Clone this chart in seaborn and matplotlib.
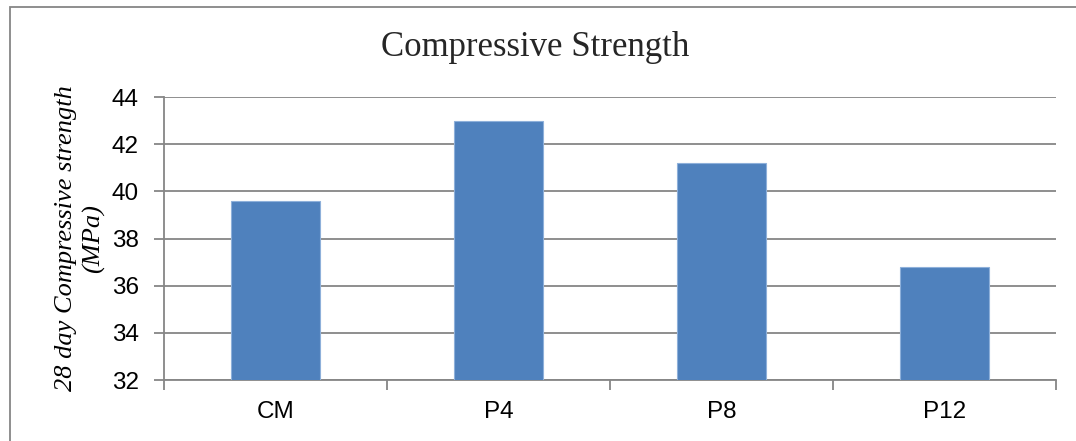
import matplotlib
matplotlib.use('Agg')
import matplotlib.pyplot as plt
import matplotlib.patches as mpatches
from matplotlib.ticker import FixedLocator
import seaborn as sns
import pandas as pd

# ── Data ──────────────────────────────────────────────────
mixes = ['CM', 'P4', 'P8', 'P12']
strength = [39.6, 43.0, 41.2, 36.8]
y_ticks = [32, 34, 36, 38, 40, 42, 44]

df = pd.DataFrame({'mix': mixes, 'strength': strength})

sns.set_style('white')
sans = ['Liberation Sans Narrow', 'Liberation Sans', 'DejaVu Sans']
serif = ['Liberation Serif', 'DejaVu Serif']

fig = plt.figure(figsize=(10.76, 4.41), dpi=100)
ax = fig.add_axes([0.1524, 0.1383, 0.829, 0.6417])

sns.barplot(data=df, x='mix', y='strength', color='#4F81BD', width=0.4,
            saturation=1, edgecolor='#8EB0DA', linewidth=0.8, ax=ax, zorder=3)

ax.set_ylim(32, 44)
ax.set_xlim(-0.5, len(mixes) - 0.5)
ax.set_yticks(y_ticks)
ax.yaxis.grid(True, color='#868686', linewidth=1.3, zorder=0)
ax.set_axisbelow(True)

# ticks at category boundaries like Excel
ax.xaxis.set_minor_locator(FixedLocator([i - 0.5 for i in range(len(mixes) + 1)]))
ax.tick_params(axis='x', which='major', length=0, pad=15)
ax.tick_params(axis='x', which='minor', length=7, width=1.3, color='#868686', bottom=True)
ax.tick_params(axis='y', length=7, width=1.3, color='#868686', left=True, pad=11)

for lbl in ax.get_xticklabels() + ax.get_yticklabels():
    lbl.set_fontfamily(sans)
    lbl.set_fontsize(17.5)
    lbl.set_color('black')

for side in ['top', 'right']:
    ax.spines[side].set_visible(False)
for side in ['left', 'bottom']:
    ax.spines[side].set_color('#868686')
    ax.spines[side].set_linewidth(1.3)

ax.set_xlabel('')
ax.set_ylabel('28 day Compressive strength\n(MPa)', family=serif, style='italic',
              fontsize=19, labelpad=5, linespacing=1.25, color='black')

fig.text(0.497, 0.893, 'Compressive Strength', family=serif, fontsize=25,
         ha='center', va='center')

# outer chart border
border = mpatches.Rectangle((10 / 1076, -0.1), 1.2, 1 + 0.1 - 7 / 441,
                            transform=fig.transFigure, fill=False,
                            edgecolor='#868686', linewidth=1.3)
fig.patches.append(border)

fig.savefig('out.png', dpi=100)
